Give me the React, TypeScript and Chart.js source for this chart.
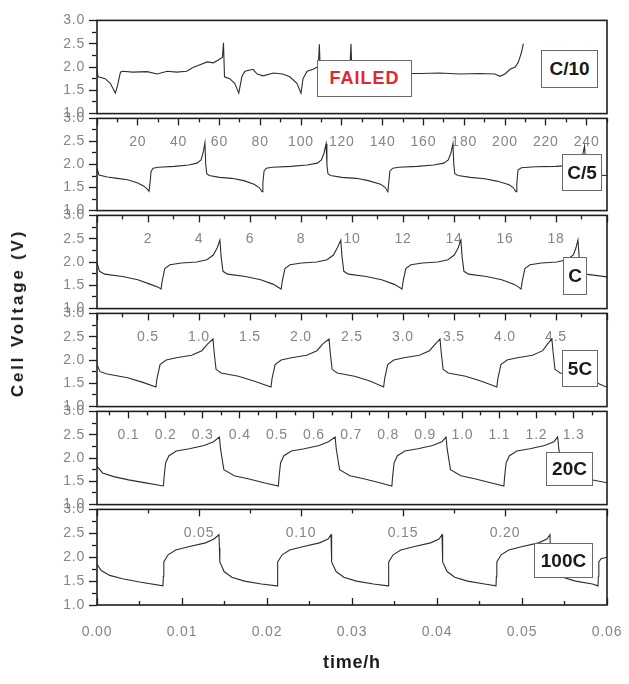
import React, { useEffect, useRef } from "react";
import { Chart, registerables } from "chart.js";
Chart.register(...registerables);

const FONT = "'Liberation Sans', Arial, Helvetica, sans-serif";

// ---------- data (time in each panel's own unit, voltage in V) ----------
const c10Time = [0, 1, 8, 13, 18, 20, 23, 25, 35, 49, 59, 69, 78, 88, 94, 101, 108, 114, 119, 123, 124, 125, 130, 135, 139, 142, 145, 153, 157, 163, 173, 182, 189, 196, 200, 202, 206, 212, 217, 218, 219, 228, 243, 248, 249, 250, 277, 308, 317, 336, 356, 375, 390, 395, 400, 405, 410, 413, 416, 418];
const c10Volt = [1.95, 1.79, 1.75, 1.65, 1.44, 1.59, 1.89, 1.91, 1.89, 1.9, 1.85, 1.91, 1.89, 1.91, 1.99, 2.05, 2.11, 2.09, 2.15, 2.21, 2.52, 1.79, 1.75, 1.65, 1.44, 1.79, 1.91, 1.95, 1.85, 1.81, 1.87, 1.85, 1.79, 1.65, 1.44, 1.75, 1.91, 1.95, 2.01, 2.49, 1.85, 1.8, 1.85, 2.0, 2.5, 1.8, 1.85, 1.86, 1.86, 1.87, 1.85, 1.86, 1.85, 1.8, 1.85, 1.95, 2.0, 2.1, 2.3, 2.5];

const c5Time = [0, 1, 5, 10, 15, 20, 23, 25, 25.5, 26, 26.5, 27.5, 30, 38, 45, 49, 51, 52, 52.9, 53.3, 53.8, 55, 60, 66, 72, 77, 79.5, 80.9, 81.3, 81.9, 83, 86, 95, 103, 108, 110, 111.3, 112.3, 112.7, 113.2, 114.5, 120, 127, 133, 139, 141.3, 142.6, 143, 143.6, 145, 148, 157, 165, 170, 172.2, 173.5, 174.5, 174.9, 175.4, 177, 183, 190, 196, 202, 204, 205.4, 205.8, 206.4, 208, 215, 225, 232, 236, 238, 239, 239.5, 240, 245, 250];
const c5Volt = [1.92, 1.77, 1.73, 1.7, 1.67, 1.6, 1.53, 1.45, 1.42, 1.6, 1.85, 1.92, 1.94, 1.96, 1.99, 2.03, 2.1, 2.25, 2.47, 2.0, 1.8, 1.76, 1.72, 1.7, 1.65, 1.57, 1.5, 1.41, 1.6, 1.86, 1.92, 1.94, 1.96, 1.99, 2.03, 2.1, 2.25, 2.45, 2.0, 1.8, 1.76, 1.72, 1.7, 1.65, 1.57, 1.5, 1.41, 1.6, 1.86, 1.92, 1.94, 1.96, 1.99, 2.03, 2.1, 2.25, 2.45, 2.0, 1.8, 1.76, 1.72, 1.69, 1.64, 1.56, 1.5, 1.41, 1.6, 1.88, 1.93, 1.95, 1.96, 1.98, 2.05, 2.2, 2.4, 2.0, 1.8, 1.77, 1.76];

const c1Time = [0, 0.1, 0.3, 1, 1.6, 2.1, 2.4, 2.51, 2.56, 2.66, 2.86, 3.31, 3.91, 4.31, 4.56, 4.71, 4.82, 4.87, 4.94, 5.12, 5.82, 6.42, 6.92, 7.1, 7.22, 7.27, 7.37, 7.57, 8.02, 8.62, 9.02, 9.27, 9.42, 9.56, 9.61, 9.68, 9.86, 10.56, 11.16, 11.66, 11.85, 11.96, 12.01, 12.11, 12.31, 12.76, 13.36, 13.76, 14.01, 14.16, 14.27, 14.32, 14.39, 14.57, 15.27, 15.87, 16.37, 16.53, 16.63, 16.68, 16.78, 16.98, 17.43, 18.03, 18.43, 18.68, 18.78, 18.86, 18.91, 18.98, 19.16, 20];
const c1Volt = [1.98, 1.8, 1.74, 1.69, 1.62, 1.52, 1.46, 1.42, 1.6, 1.86, 1.94, 1.98, 2.0, 2.05, 2.15, 2.3, 2.47, 2.1, 1.8, 1.74, 1.69, 1.62, 1.52, 1.46, 1.42, 1.6, 1.86, 1.94, 1.98, 2.0, 2.05, 2.15, 2.3, 2.47, 2.1, 1.8, 1.74, 1.69, 1.62, 1.52, 1.46, 1.42, 1.6, 1.86, 1.94, 1.98, 2.0, 2.05, 2.15, 2.3, 2.47, 2.1, 1.8, 1.74, 1.69, 1.62, 1.52, 1.46, 1.42, 1.6, 1.86, 1.94, 1.98, 2.0, 2.05, 2.15, 2.3, 2.47, 2.1, 1.8, 1.74, 1.68];

const c5cTime = [0, 0.03, 0.1, 0.3, 0.45, 0.578, 0.588, 0.618, 0.678, 0.778, 0.928, 1.028, 1.088, 1.137, 1.147, 1.167, 1.217, 1.387, 1.537, 1.706, 1.716, 1.746, 1.806, 1.906, 2.056, 2.156, 2.216, 2.275, 2.285, 2.305, 2.355, 2.525, 2.675, 2.81, 2.82, 2.85, 2.91, 3.01, 3.16, 3.26, 3.32, 3.363, 3.373, 3.393, 3.443, 3.613, 3.763, 3.92, 3.93, 3.96, 4.02, 4.12, 4.27, 4.37, 4.42, 4.46, 4.47, 4.49, 4.54, 4.71, 4.86, 4.97, 5.0];
const c5cVolt = [1.9, 1.75, 1.7, 1.62, 1.52, 1.42, 1.6, 1.9, 2.0, 2.05, 2.1, 2.2, 2.35, 2.45, 2.2, 1.8, 1.72, 1.65, 1.55, 1.42, 1.6, 1.9, 2.0, 2.05, 2.1, 2.2, 2.35, 2.45, 2.2, 1.8, 1.72, 1.65, 1.55, 1.42, 1.6, 1.9, 2.0, 2.05, 2.1, 2.2, 2.35, 2.45, 2.2, 1.8, 1.72, 1.65, 1.55, 1.42, 1.6, 1.9, 2.0, 2.05, 2.1, 2.2, 2.35, 2.45, 2.2, 1.8, 1.72, 1.65, 1.55, 1.44, 1.42];

const c20Time = [0.015, 0.03, 0.06, 0.1, 0.15, 0.194, 0.196, 0.2, 0.209, 0.229, 0.264, 0.304, 0.329, 0.345, 0.348, 0.357, 0.385, 0.425, 0.465, 0.504, 0.506, 0.51, 0.519, 0.539, 0.574, 0.614, 0.639, 0.657, 0.66, 0.669, 0.697, 0.737, 0.777, 0.81, 0.812, 0.816, 0.825, 0.845, 0.88, 0.92, 0.945, 0.956, 0.959, 0.968, 0.996, 1.036, 1.076, 1.112, 1.114, 1.118, 1.127, 1.147, 1.182, 1.222, 1.247, 1.257, 1.26, 1.269, 1.297, 1.337, 1.39];
const c20Volt = [1.82, 1.68, 1.6, 1.53, 1.46, 1.4, 1.6, 1.9, 2.05, 2.15, 2.2, 2.27, 2.35, 2.45, 2.2, 1.75, 1.62, 1.55, 1.47, 1.4, 1.6, 1.9, 2.05, 2.15, 2.2, 2.27, 2.35, 2.45, 2.2, 1.75, 1.62, 1.55, 1.47, 1.4, 1.6, 1.9, 2.05, 2.15, 2.2, 2.27, 2.35, 2.45, 2.2, 1.75, 1.62, 1.55, 1.47, 1.4, 1.6, 1.9, 2.05, 2.15, 2.2, 2.27, 2.35, 2.45, 2.2, 1.75, 1.62, 1.55, 1.47];

const c100Time = [0, 0.0005, 0.0015, 0.003, 0.005, 0.00776, 0.00781, 0.00786, 0.00836, 0.00926, 0.01076, 0.01276, 0.01376, 0.01435, 0.0144, 0.01445, 0.01495, 0.01585, 0.01735, 0.01935, 0.02118, 0.02123, 0.02128, 0.02178, 0.02268, 0.02418, 0.02618, 0.02718, 0.02753, 0.02758, 0.02763, 0.02813, 0.02903, 0.03053, 0.03253, 0.03424, 0.03429, 0.03434, 0.03484, 0.03574, 0.03724, 0.03924, 0.04024, 0.04059, 0.04064, 0.04069, 0.04119, 0.04209, 0.04359, 0.04559, 0.04694, 0.04699, 0.04704, 0.04754, 0.04844, 0.04994, 0.05194, 0.05294, 0.05329, 0.05334, 0.05339, 0.05389, 0.05479, 0.05629, 0.05829, 0.05894, 0.05899, 0.05904, 0.0593, 0.06];
const c100Volt = [1.85, 1.72, 1.62, 1.55, 1.48, 1.4, 1.6, 1.9, 2.05, 2.15, 2.22, 2.3, 2.38, 2.47, 2.2, 1.9, 1.7, 1.58, 1.5, 1.44, 1.4, 1.6, 1.9, 2.05, 2.15, 2.22, 2.3, 2.38, 2.47, 2.2, 1.9, 1.7, 1.58, 1.5, 1.44, 1.4, 1.6, 1.9, 2.05, 2.15, 2.22, 2.3, 2.38, 2.47, 2.2, 1.9, 1.7, 1.58, 1.5, 1.44, 1.4, 1.6, 1.9, 2.05, 2.15, 2.22, 2.3, 2.38, 2.47, 2.2, 1.9, 1.7, 1.58, 1.5, 1.44, 1.4, 1.6, 1.9, 1.97, 2.0];

const rateLabels = ["C/10", "C/5", "C", "5C", "20C", "100C"];
const failedLabel = "FAILED";
const xTitle = "time/h";
const yTitle = "Cell Voltage (V)";

// ---------- layout ----------
const W = 629;
const PLOT_LEFT = 97;
const PLOT_RIGHT = 607;
const panelTops = [18, 116, 213, 311, 409, 507, 605];
const PAD = 10;

type AxisSpec = { min: number; max: number; step: number; major: number; dec: number; showEnds?: boolean };

type PanelSpec = {
  time: number[];
  volt: number[];
  axis: AxisSpec | null; // inner top axis in the panel's own unit
  bottom?: AxisSpec; // shared time/h axis (last panel)
};

const panels: PanelSpec[] = [
  { time: c10Time, volt: c10Volt, axis: null },
  { time: c5Time, volt: c5Volt, axis: { min: 0, max: 250, step: 10, major: 20, dec: 0 } },
  { time: c1Time, volt: c1Volt, axis: { min: 0, max: 20, step: 1, major: 2, dec: 0 } },
  { time: c5cTime, volt: c5cVolt, axis: { min: 0, max: 5, step: 0.25, major: 0.5, dec: 1 } },
  { time: c20Time, volt: c20Volt, axis: { min: 0.015, max: 1.39, step: 0.05, major: 0.1, dec: 1 } },
  { time: c100Time, volt: c100Volt, axis: { min: 0, max: 0.25, step: 0.025, major: 0.05, dec: 2 }, bottom: { min: 0, max: 0.06, step: 0.005, major: 0.01, dec: 2, showEnds: true } },
];

const boxes = [
  { text: rateLabels[0], left: 541, top: 50, w: 57, h: 38 },
  { text: rateLabels[1], left: 562, top: 154, w: 40, h: 37 },
  { text: rateLabels[2], left: 563, top: 257, w: 24, h: 38 },
  { text: rateLabels[3], left: 562, top: 350, w: 36, h: 37 },
  { text: rateLabels[4], left: 546, top: 452, w: 47, h: 34 },
  { text: rateLabels[5], left: 534, top: 543, w: 59, h: 35 },
];

const isMult = (v: number, m: number) => Math.abs(v / m - Math.round(v / m)) < 1e-6;

const AXIS_COLOR = "#1e1e1e";
const LABEL_COLOR = "#858585";
const TICK_FONT = { family: FONT, size: 14 };

function tickDash(major: number, fromBorder: boolean) {
  return (ctx: any) => {
    const v = ctx && ctx.tick ? ctx.tick.value : 0;
    if (isMult(v, major)) return [];
    return fromBorder ? [4, 100] : [4, 3];
  };
}
function tickDashOffset(major: number, fromBorder: boolean) {
  return (ctx: any) => {
    const v = ctx && ctx.tick ? ctx.tick.value : 0;
    if (isMult(v, major)) return 0;
    return fromBorder ? 0 : 4;
  };
}

function xAxis(spec: AxisSpec, position: "top" | "bottom", extra: any = {}) {
  const eps = (spec.max - spec.min) * 1e-4;
  return {
    type: "linear",
    axis: "x",
    position,
    min: spec.min,
    max: spec.max,
    afterFit: (s: any) => {
      s.height = position === "top" ? 0 : 79;
      s.paddingLeft = 0;
      s.paddingRight = 0;
    },
    border: { display: false },
    grid: {
      display: true,
      drawOnChartArea: false,
      drawTicks: true,
      tickLength: -7,
      color: AXIS_COLOR,
      tickColor: AXIS_COLOR,
      tickWidth: 1.3,
      tickBorderDash: tickDash(spec.major, position === "bottom"),
      tickBorderDashOffset: tickDashOffset(spec.major, position === "bottom"),
    },
    ticks: {
      stepSize: spec.step,
      maxTicksLimit: 1000,
      includeBounds: false,
      autoSkip: false,
      maxRotation: 0,
      minRotation: 0,
      mirror: position === "top",
      color: LABEL_COLOR,
      font: TICK_FONT,
      padding: position === "top" ? 15 : 26,
      callback: (val: any) => {
        const v = Number(val);
        if (!isMult(v, spec.major)) return "";
        if (!spec.showEnds && (v <= spec.min + eps || v >= spec.max - eps)) return "";
        return v.toFixed(spec.dec);
      },
    },
    ...extra,
  };
}

const framePlugin = {
  id: "panelFrame",
  beforeDraw(chart: any) {
    try {
      chart.ctx.letterSpacing = "0.8px";
    } catch (e) {}
  },
  afterDraw(chart: any) {
    const { ctx, chartArea } = chart;
    ctx.save();
    ctx.strokeStyle = AXIS_COLOR;
    ctx.lineWidth = 1.6;
    ctx.strokeRect(chartArea.left, chartArea.top, chartArea.right - chartArea.left, chartArea.bottom - chartArea.top);
    ctx.restore();
  },
};

function Panel({ spec, index }: { spec: PanelSpec; index: number }) {
  const ref = useRef<HTMLCanvasElement>(null);
  const isLast = index === panels.length - 1;
  const top = panelTops[index] - PAD;
  const height = isLast ? 684 - top : panelTops[index + 1] - panelTops[index] + 2 * PAD;

  useEffect(() => {
    const canvas = ref.current;
    if (!canvas) return;
    const points = spec.time.map((t, i) => ({ x: t, y: spec.volt[i] }));
    const scales: any = {
      y: {
        type: "linear",
        position: "left",
        min: 1,
        max: 3,
        afterFit: (s: any) => {
          s.width = PLOT_LEFT;
        },
        border: { display: false },
        grid: {
          display: true,
          drawOnChartArea: false,
          drawTicks: true,
          tickLength: 8,
          color: AXIS_COLOR,
          tickColor: AXIS_COLOR,
          tickWidth: 1.3,
          tickBorderDash: tickDash(0.5, false),
          tickBorderDashOffset: tickDashOffset(0.5, false),
        },
        ticks: {
          stepSize: 0.25,
          maxTicksLimit: 1000,
          includeBounds: false,
          autoSkip: false,
          color: LABEL_COLOR,
          font: TICK_FONT,
          padding: 4,
          callback: (val: any) => {
            const v = Number(val);
            return isMult(v, 0.5) ? v.toFixed(1) : "";
          },
        },
      },
    };
    if (spec.bottom) {
      scales.x = xAxis(spec.bottom, "bottom", {
        title: {
          display: true,
          text: xTitle,
          color: AXIS_COLOR,
          font: { family: FONT, size: 18, weight: "bold" },
          padding: { top: 0, bottom: 10 },
        },
      });
      if (spec.axis) scales.xTop = xAxis(spec.axis, "top");
    } else if (spec.axis) {
      scales.x = xAxis(spec.axis, "top");
    } else {
      scales.x = { type: "linear", axis: "x", position: "top", min: 0, max: 500, display: false };
    }

    const chart = new Chart(canvas, {
      type: "scatter",
      data: {
        datasets: [
          {
            data: points,
            showLine: true,
            borderColor: "#2e2e2e",
            borderWidth: 1.1,
            pointRadius: 0,
            pointHoverRadius: 0,
            fill: false,
            tension: 0,
            xAxisID: "x",
            yAxisID: "y",
          },
        ],
      },
      options: {
        animation: false,
        responsive: false,
        devicePixelRatio: 1,
        events: [],
        layout: { padding: { left: 0, right: W - PLOT_RIGHT, top: PAD, bottom: isLast ? 0 : PAD } },
        plugins: { legend: { display: false }, tooltip: { enabled: false }, title: { display: false } },
        scales,
      } as any,
      plugins: [framePlugin],
    });
    return () => chart.destroy();
  }, []);

  return (
    <canvas
      ref={ref}
      width={W}
      height={height}
      style={{ position: "absolute", left: 0, top, width: W, height, display: "block" }}
    />
  );
}

const boxStyle: any = {
  position: "absolute",
  boxSizing: "border-box",
  border: "1.5px solid #6a6a6a",
  background: "#ffffff",
  display: "flex",
  alignItems: "center",
  justifyContent: "center",
  fontWeight: "bold",
  whiteSpace: "nowrap",
};

export default function App() {
  return (
    <div
      style={{
        position: "fixed",
        left: 0,
        top: 0,
        width: W,
        height: 684,
        background: "#ffffff",
        overflow: "hidden",
        fontFamily: FONT,
      }}
    >
      {panels.map((p, i) => (
        <Panel key={i} spec={p} index={i} />
      ))}
      {boxes.map((b, i) => (
        <div
          key={i}
          style={{ ...boxStyle, left: b.left, top: b.top, width: b.w, height: b.h, fontSize: 19, color: "#1a1a1a" }}
        >
          {b.text}
        </div>
      ))}
      <div
        style={{ ...boxStyle, left: 317, top: 60, width: 95, height: 37, fontSize: 18, letterSpacing: "1px", color: "#e3262e" }}
      >
        {failedLabel}
      </div>
      <div
        style={{
          position: "absolute",
          left: 18,
          top: 313,
          transform: "translate(-50%, -50%) rotate(-90deg)",
          whiteSpace: "nowrap",
          fontWeight: "bold",
          fontSize: 17,
          letterSpacing: "2.8px",
          color: "#1a1a1a",
        }}
      >
        {yTitle}
      </div>
    </div>
  );
}
